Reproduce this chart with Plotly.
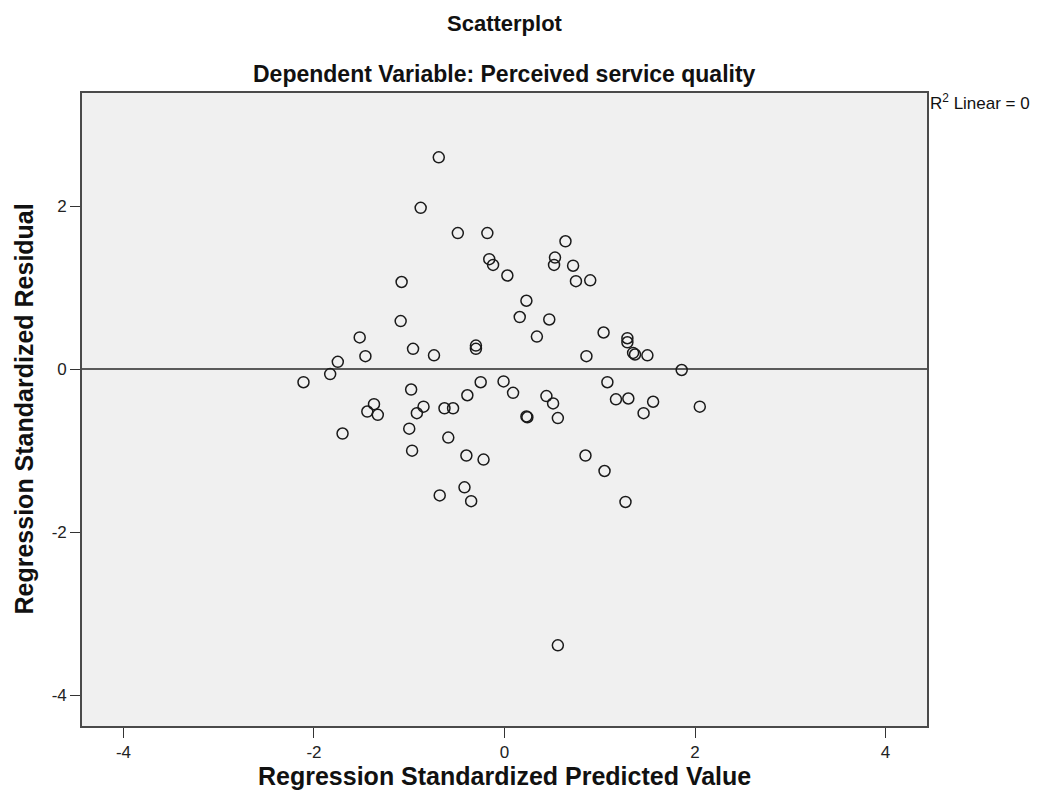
import plotly.graph_objects as go

# Regression standardized predicted values (x) and standardized residuals (y)
pred = [-0.69, -0.88, -0.49, -0.18, -0.16, -0.12, 0.03, -1.08, 0.23, 0.16,
        -1.09, 0.47, 0.34, -1.52, -0.96, -0.74, -1.46, -0.30, -0.30, -1.75,
        -1.83, -2.11, 0.64, 0.53, 0.52, 0.72, 0.75, 0.90, 1.04, 1.29,
        1.29, 1.35, 1.37, 1.50, 0.86, 1.86, -0.25, -0.01, 0.09, 1.08,
        -0.98, -1.37, -1.44, -1.33, -0.85, -0.92, -0.63, -0.54, -0.39, 0.23,
        0.24, 0.44, 0.51, 0.56, 1.17, 1.30, 1.56, 1.46, 2.05, -1.70,
        -1.00, -0.59, -0.97, -0.40, -0.22, 0.85, 1.05, -0.42, -0.68, -0.35,
        1.27, 0.56]
resid = [2.60, 1.98, 1.67, 1.67, 1.35, 1.28, 1.15, 1.07, 0.84, 0.64,
         0.59, 0.61, 0.40, 0.39, 0.25, 0.17, 0.16, 0.29, 0.25, 0.09,
         -0.06, -0.16, 1.57, 1.37, 1.28, 1.27, 1.08, 1.09, 0.45, 0.38,
         0.33, 0.20, 0.18, 0.17, 0.16, -0.01, -0.16, -0.15, -0.29, -0.16,
         -0.25, -0.43, -0.52, -0.56, -0.46, -0.54, -0.48, -0.48, -0.32, -0.58,
         -0.59, -0.33, -0.42, -0.60, -0.37, -0.36, -0.40, -0.54, -0.46, -0.79,
         -0.73, -0.84, -1.00, -1.06, -1.11, -1.06, -1.25, -1.45, -1.55, -1.62,
         -1.63, -3.39]

x_ticks = [-4, -2, 0, 2, 4]
y_ticks = [-4, -2, 0, 2]

FONT = "Liberation Sans, Arial, sans-serif"

fig = go.Figure()
fig.add_trace(go.Scatter(
    x=pred, y=resid, mode="markers",
    marker=dict(symbol="circle-open", size=11, color="#1a1a1a",
                line=dict(width=1.5, color="#1a1a1a")),
    showlegend=False, hoverinfo="x+y",
))

fig.update_layout(
    width=1024, height=786,
    margin=dict(l=74, r=105, t=85, b=68),
    paper_bgcolor="white",
    plot_bgcolor="#F0F0F0",
    font=dict(family=FONT, size=17, color="#222222"),
    xaxis=dict(
        range=[-4.435, 4.435], tickvals=x_ticks, ticktext=[str(v) for v in x_ticks],
        showgrid=False, zeroline=False,
        showline=True, mirror=True, linecolor="#4a4a4a", linewidth=1.6,
        ticks="outside", ticklen=10, tickwidth=1.3, tickcolor="#333333",
        tickfont=dict(family=FONT, size=17, color="#222222"),
    ),
    yaxis=dict(
        range=[-4.38, 3.39], tickvals=y_ticks, ticktext=[str(v) for v in y_ticks],
        showgrid=False, zeroline=True, zerolinecolor="#5a5a5a", zerolinewidth=2,
        showline=True, mirror=True, linecolor="#4a4a4a", linewidth=1.6,
        ticks="outside", ticklen=10, tickwidth=1.3, tickcolor="#333333",
        tickfont=dict(family=FONT, size=17, color="#222222"),
    ),
    annotations=[
        dict(text="<b>Scatterplot</b>", xref="paper", yref="paper",
             x=0.5, y=1, yshift=70, xanchor="center", yanchor="middle",
             showarrow=False, font=dict(family=FONT, size=22, color="#111111")),
        dict(text="<b>Dependent Variable: Perceived service quality</b>",
             xref="paper", yref="paper", x=0.5, y=1, yshift=19,
             xanchor="center", yanchor="middle", showarrow=False,
             font=dict(family=FONT, size=23, color="#111111")),
        dict(text="R<sup>2</sup> Linear = 0", xref="paper", yref="paper",
             x=1, y=1, xshift=1, yshift=-9, xanchor="left", yanchor="middle",
             showarrow=False, font=dict(family=FONT, size=17, color="#111111")),
        dict(text="<b>Regression Standardized Predicted Value</b>",
             xref="paper", yref="paper", x=0.5, y=0, yshift=-50,
             xanchor="center", yanchor="middle", showarrow=False,
             font=dict(family=FONT, size=25, color="#111111")),
        dict(text="<b>Regression Standardized Residual</b>",
             xref="paper", yref="paper", x=0, y=0.5, xshift=-59, textangle=-90,
             xanchor="center", yanchor="middle", showarrow=False,
             font=dict(family=FONT, size=25, color="#111111")),
    ],
)

fig.write_html("out.html")
